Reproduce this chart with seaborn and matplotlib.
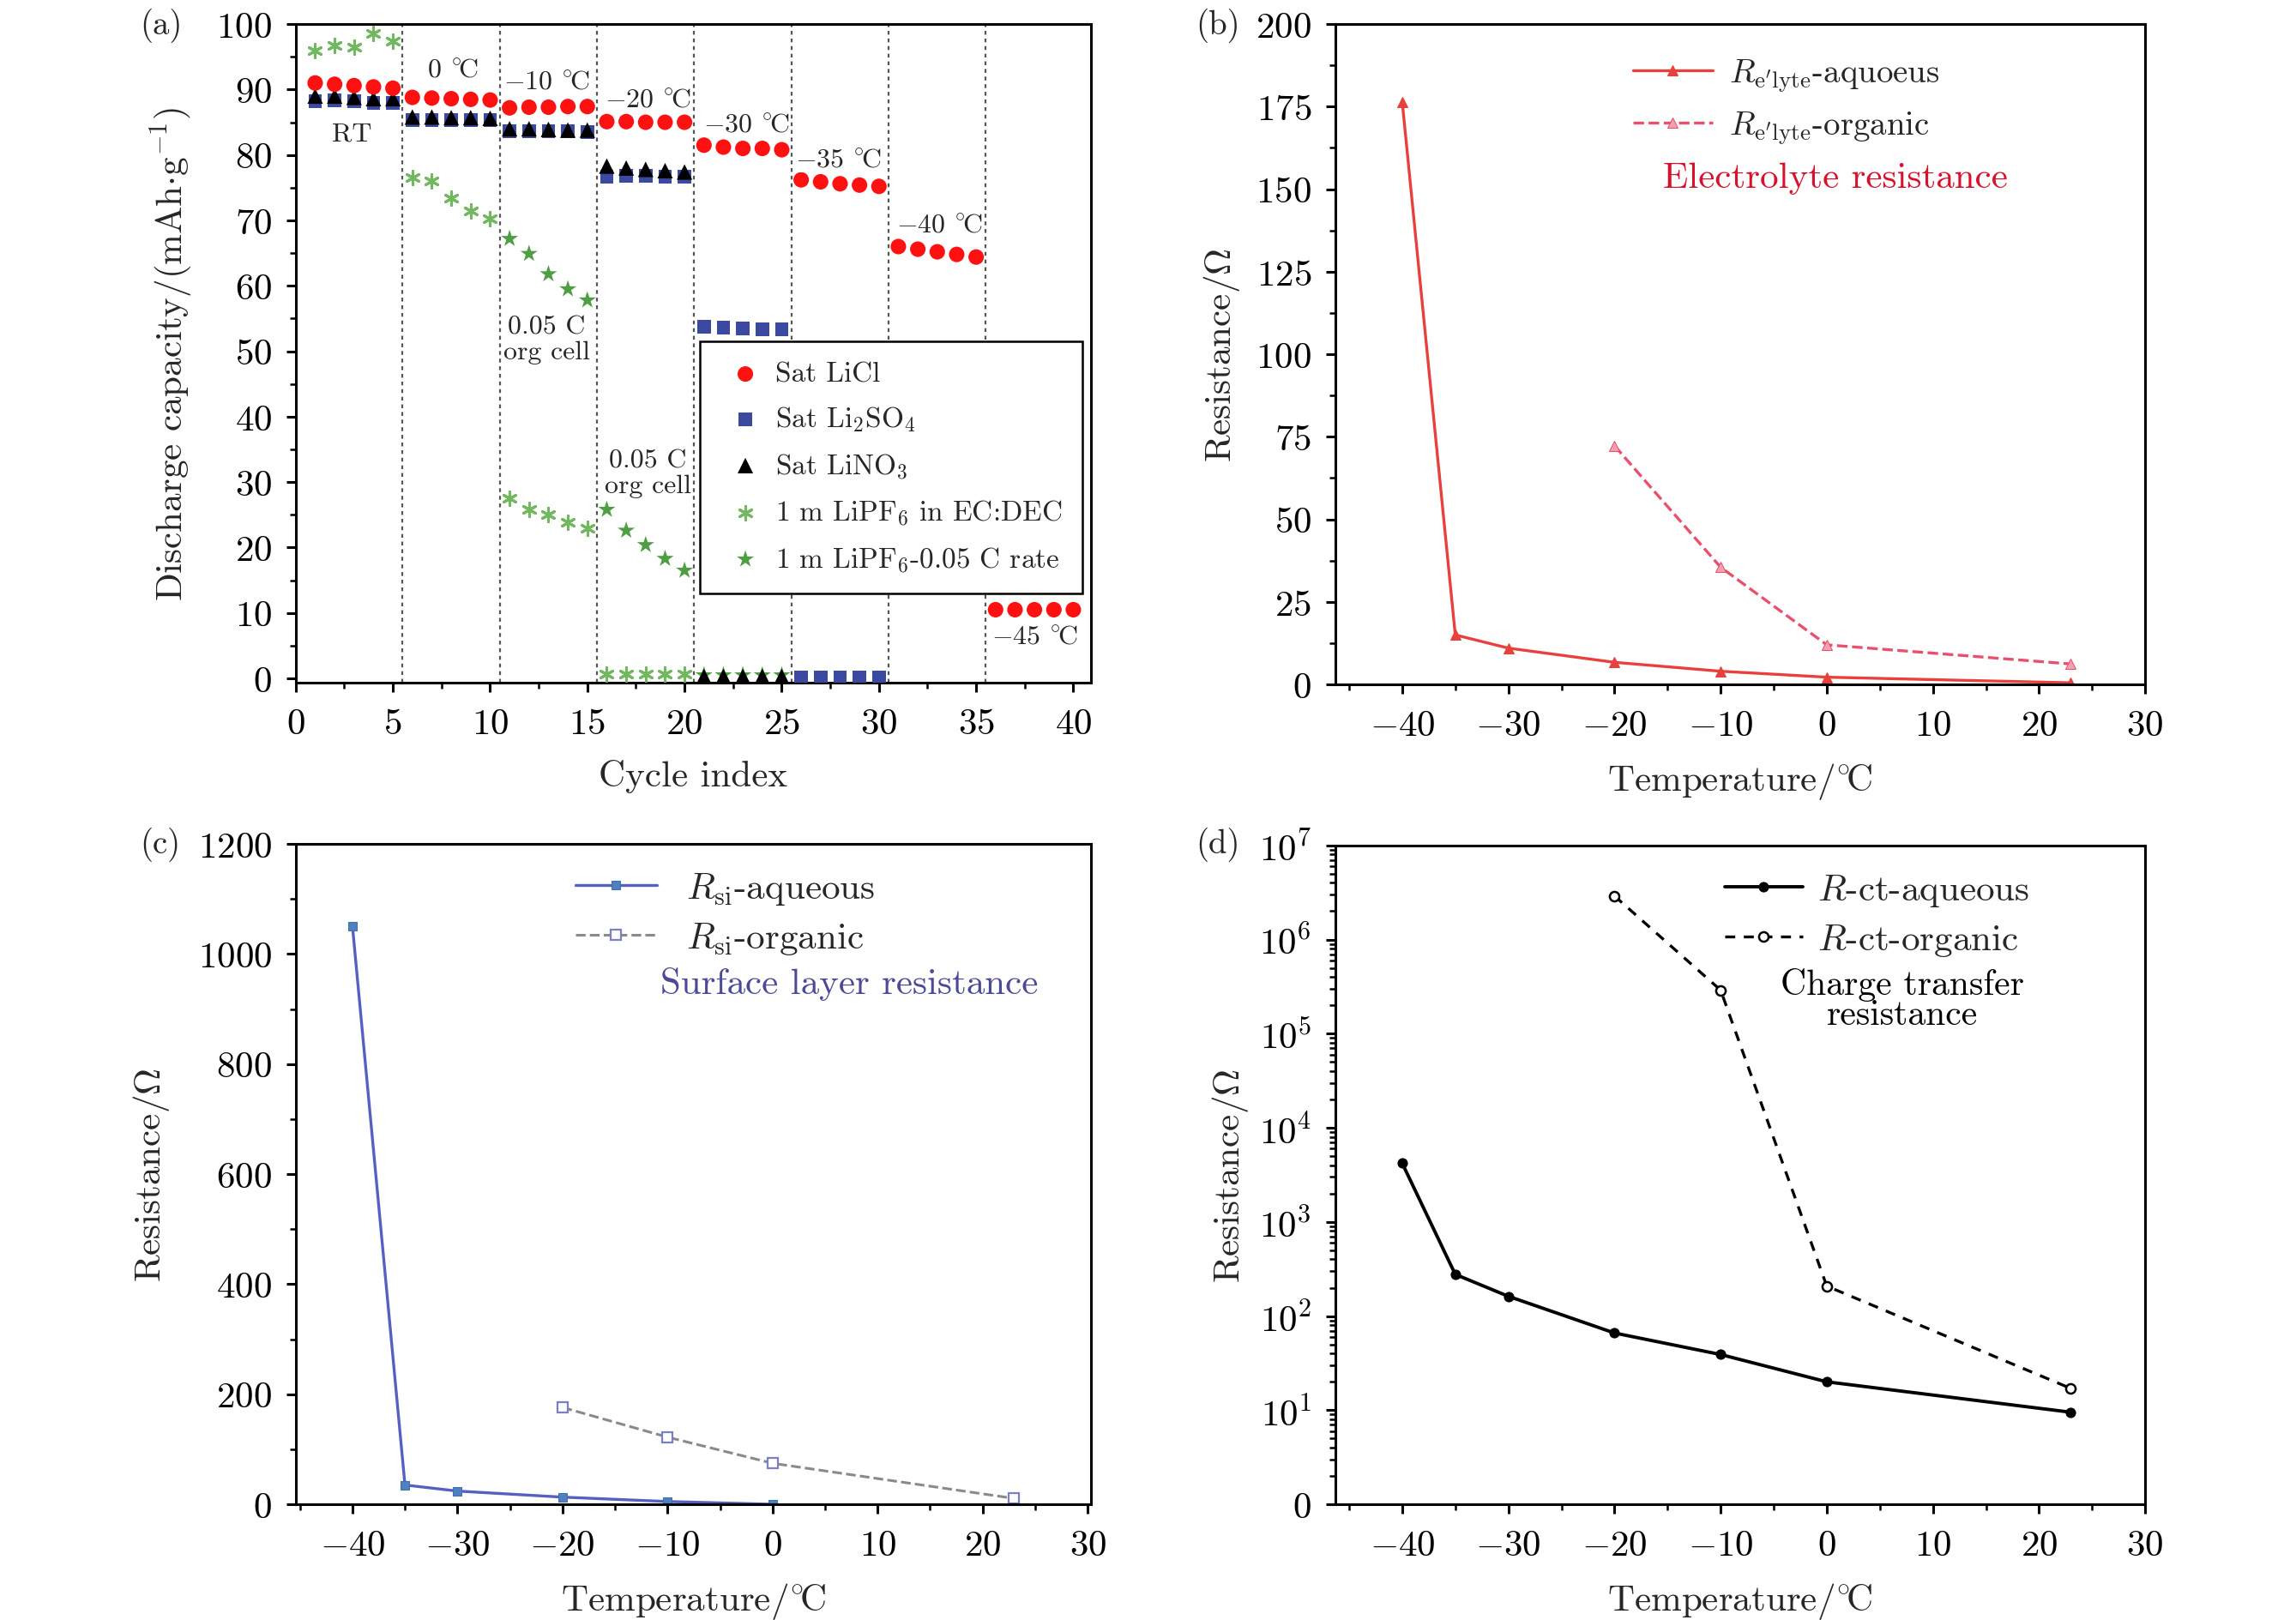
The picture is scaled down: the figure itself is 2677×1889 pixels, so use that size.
import numpy as np
import pandas as pd
import seaborn as sns
import matplotlib.pyplot as plt
from matplotlib.ticker import MultipleLocator, FixedLocator, FixedFormatter, LogLocator, NullFormatter

### DATA

# (a) discharge capacity vs cycle
licl_cyc = list(range(1, 41))
licl = [91.0, 90.8, 90.6, 90.4, 90.2, 88.8, 88.7, 88.6, 88.5, 88.4,
        87.2, 87.3, 87.3, 87.4, 87.4, 85.1, 85.1, 85.0, 85.0, 85.0,
        81.5, 81.2, 81.0, 81.0, 80.8, 76.2, 75.9, 75.6, 75.4, 75.2,
        66.0, 65.6, 65.2, 64.8, 64.4, 10.5, 10.5, 10.5, 10.5, 10.5]
li2so4_cyc = list(range(1, 31))
li2so4 = [88.2, 88.3, 88.2, 88.0, 88.0, 85.3, 85.3, 85.3, 85.3, 85.3,
          83.6, 83.6, 83.6, 83.6, 83.5, 76.7, 76.8, 76.8, 76.7, 76.7,
          53.8, 53.6, 53.5, 53.4, 53.3, 0.2, 0.2, 0.2, 0.2, 0.2]
lino3_cyc = list(range(1, 26))
lino3 = [89.0, 89.0, 88.8, 88.6, 88.6, 85.8, 85.8, 85.7, 85.7, 85.6,
         84.0, 84.0, 83.9, 83.8, 83.8, 78.3, 78.0, 77.8, 77.6, 77.4,
         0.3, 0.3, 0.3, 0.3, 0.3]
ecdec_cyc = list(range(1, 21))
ecdec = [96.0, 96.8, 96.5, 98.6, 97.4, 76.6, 76.0, 73.4, 71.5, 70.2,
         27.5, 25.8, 25.0, 23.8, 23.0, 0.6, 0.6, 0.6, 0.6, 0.6]
rate_cyc = list(range(11, 26))
rate = [67.2, 64.9, 61.8, 59.5, 57.8, 25.8, 22.6, 20.4, 18.3, 16.5,
        0.5, 0.5, 0.5, 0.5, 0.5]
step_lines = [5.5, 10.5, 15.5, 20.5, 25.5, 30.5, 35.5]

# (b) electrolyte resistance
t_aq = [-40, -35, -30, -20, -10, 0, 23]
t_org = [-20, -10, 0, 23]
rel_aq = [176.5, 15.0, 11.0, 6.7, 4.0, 2.2, 0.5]
rel_org = [72.3, 35.5, 12.0, 6.2]

# (c) surface layer resistance
t_si_aq = [-40, -35, -30, -20, -10, 0]
rsi_aq = [1051, 35, 24, 13, 5, 0]
rsi_org = [176, 122, 74.5, 10.6]

# (d) charge transfer resistance
rct_aq = [4200, 277, 162, 66, 39, 20, 9.5]
rct_org = [2.9e6, 2.9e5, 208, 17]

DEG = '$^{\\circ}\\!$C'

### STYLE
sns.set_theme(style='ticks')
plt.rcParams['font.family'] = ['cmr10', 'DejaVu Serif']
plt.rcParams['mathtext.fontset'] = 'cm'
plt.rcParams['axes.formatter.use_mathtext'] = True
plt.rcParams['axes.linewidth'] = 2.2
plt.rcParams['xtick.major.width'] = 2.2
plt.rcParams['ytick.major.width'] = 2.2
plt.rcParams['xtick.minor.width'] = 1.8
plt.rcParams['ytick.minor.width'] = 1.8
plt.rcParams['xtick.major.size'] = 8
plt.rcParams['ytick.major.size'] = 8
plt.rcParams['xtick.minor.size'] = 5
plt.rcParams['ytick.minor.size'] = 5
plt.rcParams['xtick.major.pad'] = 13
plt.rcParams['ytick.major.pad'] = 12
plt.rcParams['xtick.labelsize'] = 31
plt.rcParams['ytick.labelsize'] = 31
plt.rcParams['axes.labelsize'] = 31
plt.rcParams['axes.edgecolor'] = 'black'
plt.rcParams['xtick.color'] = 'black'
plt.rcParams['ytick.color'] = 'black'

fig = plt.figure(figsize=(26.77, 18.90), dpi=100)
ax1 = fig.add_axes([0.1288, 0.5781, 0.3463, 0.4065])
ax2 = fig.add_axes([0.5816, 0.5772, 0.3527, 0.4074])
ax3 = fig.add_axes([0.1288, 0.0714, 0.3463, 0.4074])
ax4 = fig.add_axes([0.5816, 0.0714, 0.3527, 0.4065])

#### (a)
for xv in step_lines:
    ax1.axvline(xv, color='#555555', ls=(0, (2, 2)), lw=1.6, zorder=1)

sns.scatterplot(x=li2so4_cyc, y=li2so4, ax=ax1, color='#3b4aa0', marker='s', s=130,
                edgecolor='none', label='Sat Li$_2$SO$_4$', zorder=3)
sns.scatterplot(x=lino3_cyc, y=lino3, ax=ax1, color='black', marker='^', s=170,
                edgecolor='none', label='Sat LiNO$_3$', zorder=4)
sns.scatterplot(x=licl_cyc, y=licl, ax=ax1, color='#ff1111', marker='o', s=170,
                edgecolor='none', label='Sat LiCl', zorder=5)
sns.scatterplot(x=ecdec_cyc, y=ecdec, ax=ax1, color='#72b860', marker=(6, 2, 0), s=130,
                linewidth=2.2, label='1 m LiPF$_6$ in EC:DEC', zorder=3)
sns.scatterplot(x=rate_cyc, y=rate, ax=ax1, color='#4f9e45', marker='*', s=230,
                edgecolor='none', label='1 m LiPF$_6$-0.05 C rate', zorder=3)

ax1.set_xlim(0, 40.9)
ax1.set_ylim(-0.7, 100)
ax1.xaxis.set_major_locator(MultipleLocator(5))
ax1.xaxis.set_minor_locator(MultipleLocator(2.5))
ax1.yaxis.set_major_locator(MultipleLocator(10))
ax1.yaxis.set_minor_locator(MultipleLocator(5))
ax1.set_xlabel('Cycle index', labelpad=16)
ax1.set_ylabel('Discharge capacity/(mAh$\\cdot$g$^{-1}$)', labelpad=18)

ann = [('RT', 2.9, 83.3), ('0 ' + DEG, 8.1, 93.0), ('$-$10 ' + DEG, 12.9, 91.2),
       ('$-$20 ' + DEG, 18.1, 88.4), ('$-$30 ' + DEG, 23.2, 84.6),
       ('$-$35 ' + DEG, 27.9, 79.2), ('$-$40 ' + DEG, 33.1, 69.2),
       ('$-$45 ' + DEG, 38.0, 6.3),
       ('0.05 C\norg cell', 12.9, 51.8), ('0.05 C\norg cell', 18.1, 31.4)]
for txt, xx, yy in ann:
    ax1.text(xx, yy, txt, fontsize=23, ha='center', va='center', linespacing=1.1,
             bbox=dict(facecolor='white', edgecolor='none', pad=0.5, alpha=0.9), zorder=6)

h, l = ax1.get_legend_handles_labels()
order = [2, 0, 1, 3, 4]
leg = ax1.legend([h[i] for i in order], [l[i] for i in order],
                 loc='upper left', bbox_to_anchor=(0.49, 0.54), fontsize=24,
                 frameon=True, fancybox=False, edgecolor='black', framealpha=1,
                 borderpad=0.7, labelspacing=0.62, handletextpad=0.15, handlelength=1.8)
leg.get_frame().set_linewidth(1.8)
leg.set_zorder(7)

#### (b)
sns.lineplot(x=t_aq, y=rel_aq, ax=ax2, color='#e8403c', marker='^', markersize=9,
             markeredgecolor='#e8403c', lw=2.4,
             label=r'$R_{\mathrm{e}^{\prime}\mathrm{lyte}}$-aquoeus')
sns.lineplot(x=t_org, y=rel_org, ax=ax2, color='#e8506e', marker='^', markersize=9,
             markerfacecolor='#f4a0b0', markeredgecolor='#e8506e', lw=2.4, linestyle='--',
             label=r'$R_{\mathrm{e}^{\prime}\mathrm{lyte}}$-organic')
ax2.set_xlim(-46.3, 30)
ax2.set_ylim(0, 200)
ax2.yaxis.set_major_locator(MultipleLocator(25))
ax2.yaxis.set_minor_locator(MultipleLocator(12.5))
ax2.text(0.617, 0.767, 'Electrolyte resistance', color='#d8102c', fontsize=31,
         ha='center', va='center', transform=ax2.transAxes)
ax2.legend(loc='upper left', bbox_to_anchor=(0.33, 0.995), frameon=False, fontsize=28,
           handlelength=2.4, labelspacing=0.5, handletextpad=0.5)

#### (c)
sns.lineplot(x=t_si_aq, y=rsi_aq, ax=ax3, color='#5560c0', marker='s', markersize=7,
             markeredgecolor='#3c70b0', markerfacecolor='#5080c0', lw=2.4,
             label=r'$R_{\mathrm{si}}$-aqueous')
sns.lineplot(x=t_org, y=rsi_org, ax=ax3, color='#8a8a8a', marker='s', markersize=8,
             markerfacecolor='white', markeredgecolor='#7a80c8', markeredgewidth=1.6,
             lw=2.2, linestyle='--', label=r'$R_{\mathrm{si}}$-organic')
ax3.set_xlim(-45.4, 30.3)
ax3.set_ylim(0, 1200)
ax3.yaxis.set_major_locator(MultipleLocator(200))
ax3.yaxis.set_minor_locator(MultipleLocator(100))
ax3.text(0.696, 0.789, 'Surface layer resistance', color='#4a4a98', fontsize=31,
         ha='center', va='center', transform=ax3.transAxes)
ax3.legend(loc='upper left', bbox_to_anchor=(0.31, 1.010), frameon=False, fontsize=31,
           handlelength=2.2, labelspacing=0.38, handletextpad=0.8)

#### (d)
sns.lineplot(x=t_aq, y=rct_aq, ax=ax4, color='black', marker='o', markersize=8,
             markeredgecolor='black', lw=2.8, label='$R$-ct-aqueous')
sns.lineplot(x=t_org, y=rct_org, ax=ax4, color='black', marker='o', markersize=8,
             markerfacecolor='white', markeredgecolor='black', markeredgewidth=1.8, lw=2.4,
             linestyle=(0, (3.5, 3)), label='$R$-ct-organic')
ax4.set_yscale('log')
ax4.set_xlim(-46.3, 30)
ax4.set_ylim(1, 1e7)
ax4.yaxis.set_major_locator(FixedLocator([1, 1e1, 1e2, 1e3, 1e4, 1e5, 1e6, 1e7]))
ax4.yaxis.set_major_formatter(FixedFormatter(['0', '$10^{1}$', '$10^{2}$', '$10^{3}$',
                                              '$10^{4}$', '$10^{5}$', '$10^{6}$', '$10^{7}$']))
ax4.yaxis.set_minor_locator(LogLocator(base=10, subs=np.arange(2, 10), numticks=20))
ax4.yaxis.set_minor_formatter(NullFormatter())
ax4.text(0.70, 0.767, 'Charge transfer\nresistance', color='black', fontsize=30,
         ha='center', va='center', linespacing=0.9, transform=ax4.transAxes)
ax4.legend(loc='upper left', bbox_to_anchor=(0.44, 1.010), frameon=False, fontsize=31,
           handlelength=2.1, labelspacing=0.38, handletextpad=0.4)

pads = {ax2: 12, ax3: 22, ax4: 7}
for ax in (ax2, ax3, ax4):
    ax.xaxis.set_major_locator(MultipleLocator(10))
    ax.xaxis.set_minor_locator(MultipleLocator(5))
    ax.set_xlabel('Temperature/' + DEG, labelpad=16)
    ax.set_ylabel('Resistance/$\\Omega$', labelpad=pads[ax])

for ax in (ax1, ax2, ax3, ax4):
    ax.tick_params(which='both', direction='out', top=False, right=False)
    for sp in ax.spines.values():
        sp.set_visible(True)
        sp.set_color('black')

fig.text(0.061, 0.984, '(a)', fontsize=28, ha='left', va='center')
fig.text(0.521, 0.984, '(b)', fontsize=28, ha='left', va='center')
fig.text(0.061, 0.479, '(c)', fontsize=28, ha='left', va='center')
fig.text(0.521, 0.479, '(d)', fontsize=28, ha='left', va='center')

fig.savefig('out.png', dpi=100, facecolor='white')
